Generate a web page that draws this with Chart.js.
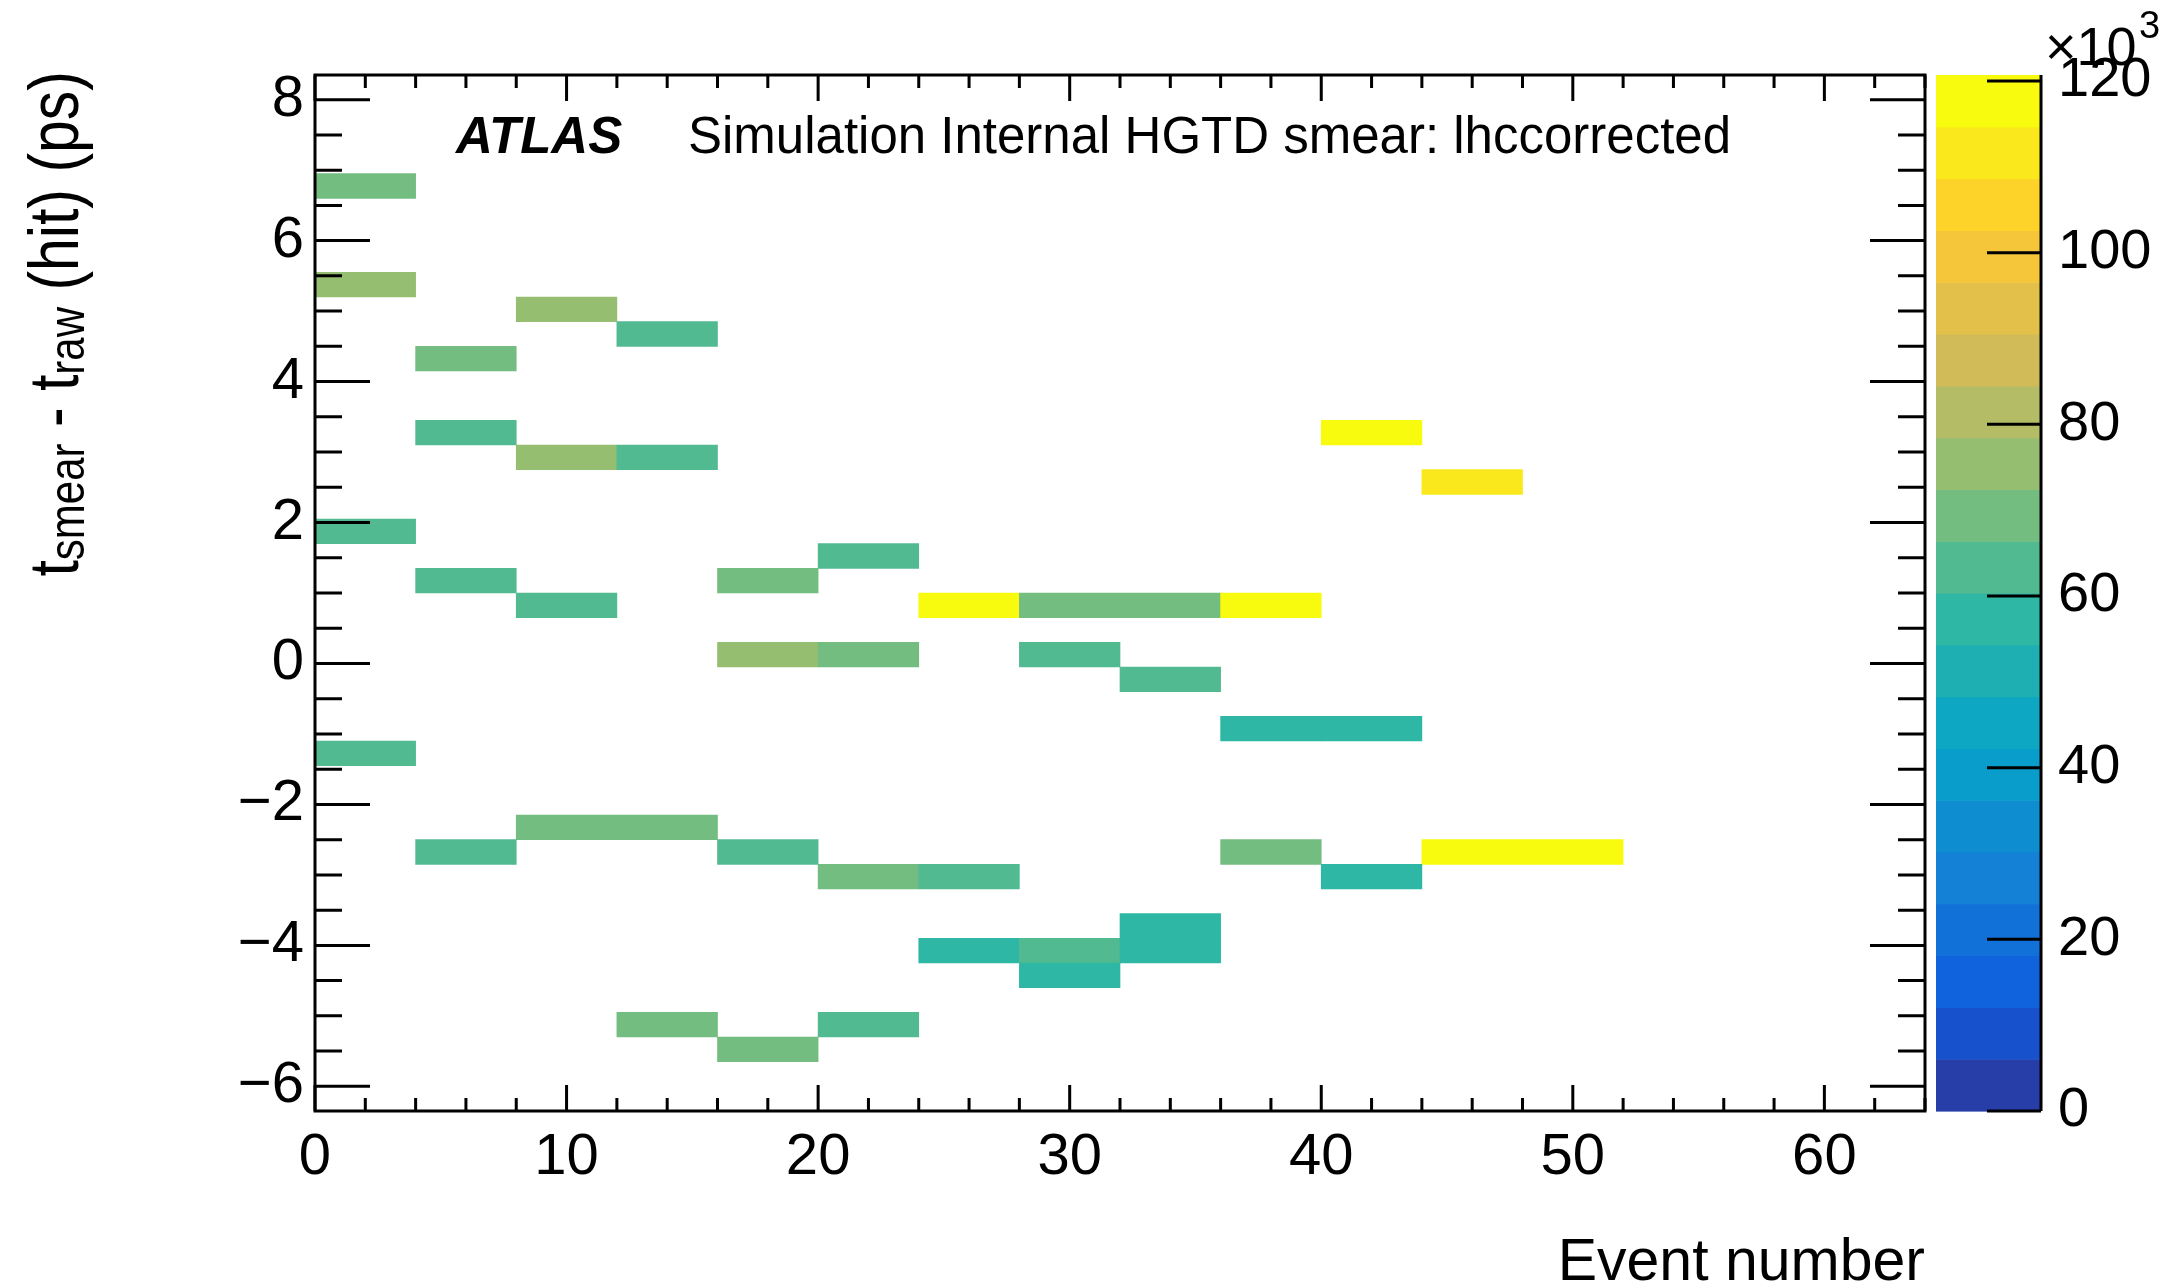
<!DOCTYPE html>
<html>
<head>
<meta charset="utf-8">
<title>HGTD smear: lhccorrected</title>
<script src="https://cdn.jsdelivr.net/npm/chart.js@4.4.1/dist/chart.umd.min.js"></script>
<style>
  html, body { margin: 0; padding: 0; background: #fff; }
  #c { display: block; }
</style>
</head>
<body>
<canvas id="c" width="2179" height="1288"></canvas>
<script>
// binning of the 2D histogram
const eventBinWidth = 4;
const eventRange = [0, 64];
const dtRange = [-6.35, 8.35];

// filled bins: lower edge in event number, bin centre in t_smear - t_raw (ps), content
const eventBins = [0, 0, 8, 12, 4, 4, 40, 8, 12, 44, 0, 20, 4, 16, 8, 24, 28, 32, 36, 16, 20, 28,
  32, 36, 40, 0, 8, 12, 4, 16, 36, 44, 48, 20, 24, 40, 32, 24, 28, 32, 28, 12, 20, 16];
const dtBins = [6.775, 5.375, 5.025, 4.675, 4.325, 3.275, 3.275, 2.925, 2.925, 2.575, 1.875, 1.525,
  1.175, 1.175, 0.825, 0.825, 0.825, 0.825, 0.825, 0.125, 0.125, 0.125, -0.225, -0.925, -0.925,
  -1.275, -2.325, -2.325, -2.675, -2.675, -2.675, -2.675, -2.675, -3.025, -3.025, -3.025, -3.725,
  -4.075, -4.075, -4.075, -4.425, -5.125, -5.125, -5.475];
const counts = [69000, 75200, 74600, 63500, 69400, 63200, 118900, 74300, 63000, 111800, 63700, 63100,
  63400, 69200, 63600, 119600, 69800, 69500, 120700, 74900, 69300, 63300, 63800, 58200, 58500,
  63200, 69100, 69300, 63500, 63000, 69700, 118800, 119300, 68900, 63900, 57900, 58400,
  58100, 63600, 57700, 58300, 69000, 63400, 68800];

// axis divisions
const xTicks = [0, 10, 20, 30, 40, 50, 60];
const xMinorStep = 2;
const yTicks = [-6, -4, -2, 0, 2, 4, 6, 8];
const yMinorStep = 0.5;
const zTicks = [0, 20000, 40000, 60000, 80000, 100000, 120000];

// kBird palette, 20 contour levels
const birdStops = [0, 0.125, 0.25, 0.375, 0.5, 0.625, 0.75, 0.875, 1];
const birdR = [0.2082, 0.0592, 0.0780, 0.0232, 0.1802, 0.5301, 0.8186, 0.9956, 0.9764];
const birdG = [0.1664, 0.3599, 0.5041, 0.6419, 0.7178, 0.7492, 0.7328, 0.7862, 0.9832];
const birdB = [0.5293, 0.8684, 0.8385, 0.7914, 0.6425, 0.4662, 0.3499, 0.1968, 0.0539];
const nContours = 20;
const zMax = Math.max(...counts);

function birdColor(t) {
  let i = 0;
  while (i < birdStops.length - 2 && t > birdStops[i + 1]) i++;
  const f = (t - birdStops[i]) / (birdStops[i + 1] - birdStops[i]);
  const mix = arr => Math.round(255 * (arr[i] + (arr[i + 1] - arr[i]) * f));
  return `rgb(${mix(birdR)},${mix(birdG)},${mix(birdB)})`;
}
function levelColor(level) {
  const idx = Math.floor((level + 0.99) * 255 / nContours);
  return birdColor(idx / 254);
}
function cellColor(v) {
  return levelColor(Math.min(nContours - 1, Math.floor(v / zMax * nContours)));
}

const FONT = "'Liberation Sans', Arial, Helvetica, sans-serif";
const withMinus = v => String(v).replace('-', '\u2212');

// frame, inward ticks, colour palette and text, ROOT style
const rootFrame = {
  id: 'rootFrame',
  afterDraw(chart) {
    const { ctx, chartArea: a } = chart;
    const { x, y, z } = chart.scales;
    ctx.save();

    // palette bar
    const bx0 = z.left + 11, bx1 = z.left + 116;
    for (let l = 0; l < nContours; l++) {
      const top = z.getPixelForValue((l + 1) * zMax / nContours);
      const bot = z.getPixelForValue(l * zMax / nContours);
      ctx.fillStyle = levelColor(l);
      ctx.fillRect(bx0, top, bx1 - bx0, bot - top + 0.6);
    }

    ctx.strokeStyle = '#000';
    ctx.lineWidth = 3;
    ctx.beginPath();
    for (let k = 0; eventRange[0] + k * xMinorStep <= eventRange[1]; k++) {
      const v = eventRange[0] + k * xMinorStep;
      const px = x.getPixelForValue(v);
      const len = xTicks.includes(v) ? 26 : 13;
      ctx.moveTo(px, a.bottom); ctx.lineTo(px, a.bottom - len);
      ctx.moveTo(px, a.top); ctx.lineTo(px, a.top + len);
    }
    for (let k = Math.ceil(dtRange[0] / yMinorStep); k * yMinorStep <= dtRange[1]; k++) {
      const v = k * yMinorStep;
      const py = y.getPixelForValue(v);
      const len = yTicks.includes(v) ? 55 : 27;
      ctx.moveTo(a.left, py); ctx.lineTo(a.left + len, py);
      ctx.moveTo(a.right, py); ctx.lineTo(a.right - len, py);
    }
    ctx.moveTo(bx1, z.top); ctx.lineTo(bx1, z.bottom);
    zTicks.forEach(v => {
      const py = z.getPixelForValue(v);
      ctx.moveTo(bx1, py); ctx.lineTo(bx1 - 54, py);
    });
    ctx.stroke();
    ctx.strokeRect(a.left, a.top, a.right - a.left, a.bottom - a.top);

    // labels
    ctx.fillStyle = '#000';
    ctx.textBaseline = 'alphabetic';
    ctx.textAlign = 'left';
    ctx.font = `italic bold 51px ${FONT}`;
    ctx.fillText('ATLAS', a.left + 141, a.top + 78);
    ctx.font = `51px ${FONT}`;
    ctx.fillText('Simulation Internal HGTD smear: lhccorrected', a.left + 373, a.top + 78);

    ctx.font = `54px ${FONT}`;
    ctx.fillText('\u00d710', z.left + 120, 65);
    ctx.font = `38px ${FONT}`;
    ctx.fillText('3', z.left + 214, 38);

    // y axis title with subscripts
    const pieces = [['t', 59, 0], ['smear', 42, 5], [' - t', 59, 0], ['raw', 42, 5], [' (hit) (ps)', 59, 0]];
    ctx.translate(78, a.top - 4);
    ctx.rotate(-Math.PI / 2);
    ctx.scale(1, 1.18);
    let total = 0;
    pieces.forEach(p => { ctx.font = `${p[1]}px ${FONT}`; p.push(ctx.measureText(p[0]).width); total += p[3]; });
    let cx = -total;
    pieces.forEach(p => {
      ctx.font = `${p[1]}px ${FONT}`;
      ctx.fillText(p[0], cx, p[2]);
      cx += p[3];
    });
    ctx.restore();
  }
};

new Chart(document.getElementById('c'), {
  type: 'bar',
  data: {
    datasets: [{
      data: counts.map((n, i) => ({ x: [eventBins[i], eventBins[i] + eventBinWidth], y: dtBins[i] })),
      backgroundColor: counts.map(cellColor),
      borderWidth: 0,
      categoryPercentage: 1,
      barPercentage: 1
    }]
  },
  options: {
    indexAxis: 'y',
    responsive: false,
    animation: false,
    devicePixelRatio: 1,
    layout: { padding: { top: 75, right: 0, bottom: 0, left: 0 } },
    plugins: { legend: { display: false }, tooltip: { enabled: false } },
    scales: {
      x: {
        type: 'linear', position: 'bottom', min: eventRange[0], max: eventRange[1], offset: false,
        grid: { display: false }, border: { display: false },
        ticks: { font: { family: FONT, size: 58 }, color: '#000', padding: 4, maxRotation: 0, autoSkip: false },
        afterBuildTicks: s => { s.ticks = xTicks.map(v => ({ value: v })); },
        afterFit: s => { s.height = 177; },
        title: {
          display: true, text: 'Event number', align: 'end', color: '#000',
          font: { family: FONT, size: 59 }, padding: { top: 0, bottom: -11 }
        }
      },
      y: {
        type: 'linear', position: 'left', min: dtRange[0], max: dtRange[1], offset: false,
        grid: { display: false }, border: { display: false },
        ticks: { font: { family: FONT, size: 58 }, color: '#000', padding: 3, autoSkip: false, callback: withMinus },
        afterBuildTicks: s => { s.ticks = yTicks.map(v => ({ value: v })); },
        afterFit: s => { s.width = 315; }
      },
      z: {
        type: 'linear', axis: 'y', position: 'right', min: 0, max: zMax, offset: false,
        // invisible tick marks push the labels past the palette bar
        grid: { display: true, drawOnChartArea: false, drawTicks: true, tickLength: 130, color: 'rgba(0,0,0,0)' },
        border: { display: false },
        ticks: { font: { family: FONT, size: 56 }, color: '#000', padding: 3, autoSkip: false, callback: v => v / 1000 },
        afterBuildTicks: s => { s.ticks = zTicks.map(v => ({ value: v })); },
        afterFit: s => { s.width = 254; }
      }
    }
  },
  plugins: [rootFrame]
});
</script>
</body>
</html>
